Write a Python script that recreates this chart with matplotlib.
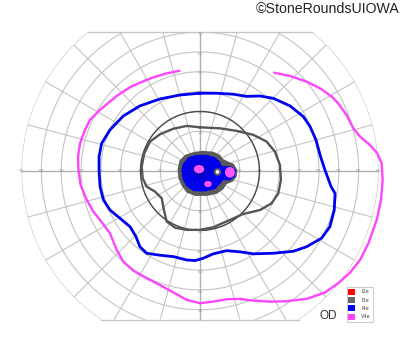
import matplotlib.pyplot as plt
import numpy as np
from matplotlib.patches import Polygon, Ellipse, Patch

# isopters: (horizontal, vertical) eccentricity in degrees
v4e_x = [-9.9, -16.8, -23.5, -30.3, -35.3, -42.0, -50.4, -55.5, -58.0, -60.5, -61.5, -61.3,
         -60.2, -57.1, -53.8, -50.4, -45.4, -42.0, -38.7, -33.6, -26.9, -20.2, -13.4, -6.7,
         0.0, 6.7, 13.4, 20.2, 26.9, 35.3, 43.7, 53.8, 63.0, 69.7, 75.6, 80.7, 84.9, 89.1,
         91.3, 92.1, 91.6, 89.4, 85.7, 80.7, 77.3, 73.9, 69.7, 66.4, 60.5, 53.8, 45.4, 37.0]
v4e_y = [50.6, 49.2, 47.2, 44.5, 42.2, 37.8, 30.8, 25.7, 20.7, 13.9, 7.2, 0.5,
         -7.1, -14.6, -20.5, -24.7, -31.4, -39.8, -45.7, -50.3, -54.1, -57.5, -61.3, -65.0,
         -66.7, -65.9, -64.7, -64.5, -65.4, -65.9, -65.7, -64.5, -61.3, -56.6, -51.3, -44.9,
         -36.5, -24.7, -14.6, -4.5, 3.9, 8.9, 13.1, 17.3, 21.5, 28.2, 34.1, 37.5, 41.7,
         45.0, 47.9, 49.6]

i4e_x = [0.0, -10.1, -20.2, -30.3, -38.7, -45.4, -49.6, -50.9, -50.9, -50.4, -48.7, -45.4,
         -40.3, -35.3, -32.3, -30.3, -26.9, -20.2, -13.4, -6.7, -2.5, 1.7, 6.7, 13.4, 20.2,
         26.9, 37.0, 47.1, 53.8, 61.3, 65.5, 67.7, 68.1, 66.1, 63.0, 60.8, 58.5, 55.5, 52.1,
         45.4, 37.0, 30.3, 23.5, 16.8, 8.4]
i4e_y = [39.2, 38.3, 36.3, 32.8, 27.7, 20.7, 13.9, 7.2, 0.0, -7.9, -14.6, -19.7,
         -23.9, -28.1, -33.1, -38.2, -41.5, -42.5, -43.2, -44.9, -45.2, -44.0, -41.8, -40.2,
         -40.8, -41.8, -41.5, -40.5, -38.2, -33.9, -28.1, -19.7, -11.3, -7.9, 0.5, 7.2, 15.6,
         22.4, 27.4, 32.8, 36.6, 37.8, 37.6, 38.7, 39.2]

i3e_x = [0.0, -6.7, -13.4, -20.2, -25.2, -28.1, -29.4, -28.9, -26.9, -22.7, -19.3, -18.2,
         -16.8, -12.6, -6.7, 0.0, 6.7, 15.1, 21.8, 30.3, 36.1, 39.5, 40.8, 40.3, 37.8, 33.6,
         26.9, 18.5, 10.1]
i3e_y = [22.0, 22.7, 21.3, 18.5, 14.8, 8.9, 2.2, -3.7, -7.9, -10.4, -13.8, -19.7,
         -25.5, -28.6, -29.7, -29.7, -28.4, -24.7, -21.7, -19.7, -16.3, -11.3, -4.5, 3.0,
         9.7, 14.8, 18.2, 20.2, 21.5]

# central scotoma areas
scot_i3e_x = [-10.4, -7.6, -3.4, 1.7, 6.7, 10.1, 11.8, 14.3, 17.1, 18.8, 18.5, 16.5, 13.4,
              11.8, 8.4, 3.4, -2.5, -6.7, -9.2, -10.9, -11.3]
scot_i3e_y = [5.2, 8.1, 9.4, 10.1, 9.7, 8.1, 5.9, 4.7, 3.5, 0.5, -2.9, -5.4, -6.6,
              -9.2, -11.6, -12.6, -12.6, -10.9, -7.6, -3.7, 0.5]
scot_i4e_x = [-8.7, -5.9, -1.7, 3.4, 7.6, 10.1, 10.9, 12.6, 16.0, 18.2, 17.5, 14.8, 11.8,
              10.1, 7.6, 2.5, -3.4, -6.7, -8.7, -9.4]
scot_i4e_y = [3.5, 6.9, 8.1, 8.1, 6.9, 4.7, 2.5, 2.5, 2.2, 0.2, -2.9, -4.9, -4.5,
              -6.6, -9.1, -10.4, -10.1, -7.9, -4.2, 0.2]
# V4e scotomas: centre x, centre y, width, height
scot_v4e = [(-0.5, 0.9, 5.2, 4.2), (15.1, -0.7, 5.0, 5.4), (4.0, -6.6, 3.8, 3.1)]
hole = (8.8, -0.5)

rings = [10, 20, 30, 40, 50, 60, 70, 80, 90]
h_labels = [10, 20, 30, 40, 50, 60, 70, 80, 90]
v_labels = [10, 20, 30, 40, 50, 60, 70]
top_limit = 70
bottom_limit = -75

legend_labels = ['I2e', 'I3e', 'I4e', 'V4e']
legend_colors = ['#ff0000', '#666666', '#0000ff', '#ff44ff']

grid_col = '#c4c4c4'

fig = plt.figure(figsize=(4, 3.52), dpi=100)
ax = fig.add_axes([0, 0, 1, 1])
ax.set_xlim(-100.85, 100.85)
ax.set_ylim(-91.3, 86.2)
ax.axis('off')

# clip outline: 90 deg circle cut flat at top and bottom
a_top = np.degrees(np.arcsin(top_limit / 90))
a_bot = np.degrees(np.arcsin(bottom_limit / 90))
t1 = np.radians(np.linspace(a_bot, a_top, 80))
t2 = np.radians(np.linspace(180 - a_top, 180 - a_bot, 80))
outline = np.concatenate([np.c_[90 * np.cos(t1), 90 * np.sin(t1)],
                          np.c_[90 * np.cos(t2), 90 * np.sin(t2)]])
clip = Polygon(outline, closed=True, facecolor='none', edgecolor='none')
ax.add_patch(clip)

th = np.linspace(0, 2 * np.pi, 361)
for r in rings:
    ln, = ax.plot(r * np.cos(th), r * np.sin(th), color=grid_col, lw=0.8, zorder=1)
    ln.set_clip_path(clip)
for a in range(0, 360, 15):
    if a % 90 == 0:
        continue
    ln, = ax.plot([0, 90 * np.cos(np.radians(a))], [0, 90 * np.sin(np.radians(a))],
                  color=grid_col, lw=0.8, zorder=1)
    ln.set_clip_path(clip)
ax.plot([-90, 90], [0, 0], color='#b0b0b0', lw=1.0, zorder=1)
ax.plot([0, 0], [bottom_limit, top_limit], color='#b0b0b0', lw=1.0, zorder=1)
ax.plot([outline[79, 0], outline[80, 0]], [top_limit, top_limit], color=grid_col, lw=0.9, zorder=1)
ax.plot([outline[-1, 0], outline[0, 0]], [bottom_limit, bottom_limit], color=grid_col, lw=0.9, zorder=1)

for v in h_labels:
    for s in (-1, 1):
        ax.text(s * v, 0, str(v), fontsize=3.2, color='#999999', ha='center', va='center', zorder=2)
for v in v_labels:
    for s in (-1, 1):
        ax.text(0, s * v - 0.8, str(v), fontsize=3.2, color='#999999', ha='center', va='center', zorder=2)

# thin 30 deg reference circle
ax.plot(30 * np.cos(th), 30 * np.sin(th), color='#4a4a4a', lw=1.0, zorder=3)

# central scotoma
ax.add_patch(Polygon(np.c_[scot_i3e_x, scot_i3e_y], closed=True, facecolor='#5a5a5a',
                     edgecolor='none', zorder=4))
blue = Polygon(np.c_[scot_i4e_x, scot_i4e_y], closed=True, facecolor='#0000ff',
               edgecolor='none', zorder=5)
ax.add_patch(blue)
for a in range(0, 360, 15):
    ln, = ax.plot([0, 20 * np.cos(np.radians(a))], [0, 20 * np.sin(np.radians(a))],
                  color='#00009a', lw=0.5, zorder=5.5)
    ln.set_clip_path(blue)
ax.add_patch(Ellipse(hole, 3.8, 3.8, facecolor='#5a5a5a', edgecolor='none', zorder=6))
ax.add_patch(Ellipse(hole, 1.8, 1.9, facecolor='white', edgecolor='none', zorder=6.5))
for cx, cy, w, h in scot_v4e:
    ax.add_patch(Ellipse((cx, cy), w, h, facecolor='#ff55ff', edgecolor='none', zorder=7))

# isopters
ax.plot(v4e_x, v4e_y, color='#ff44ff', lw=1.7, solid_joinstyle='round',
        solid_capstyle='butt', zorder=8)
ax.plot(i4e_x + i4e_x[:1], i4e_y + i4e_y[:1], color='#0000f0', lw=2.0,
        solid_joinstyle='round', zorder=8)
ax.plot(i3e_x + i3e_x[:1], i3e_y + i3e_y[:1], color='#555555', lw=1.7,
        solid_joinstyle='round', zorder=8)

handles = [Patch(facecolor=c, edgecolor='none') for c in legend_colors]
leg = ax.legend(handles, legend_labels, loc='lower left', bbox_to_anchor=(346.5 / 400, 1 - 321.5 / 352),
                fontsize=3.6, handlelength=1.4, handleheight=1.5, handletextpad=1.2,
                labelspacing=0.45, borderpad=0.35, borderaxespad=0, fancybox=False,
                framealpha=1, edgecolor='#cccccc')
leg.get_frame().set_linewidth(0.8)
for t in leg.get_texts():
    t.set_color('#444444')

fig.text(328 / 400, 1 - 316 / 352, 'OD', fontsize=8.5, family='Liberation Sans',
         color='#333333', ha='center', va='center')
fig.text(399 / 400, 1 - 9 / 352, '©StoneRoundsUIOWA', fontsize=10.2, family='Liberation Sans',
         color='#222222', ha='right', va='center')

plt.savefig('out.png', dpi=100)
plt.close(fig)
